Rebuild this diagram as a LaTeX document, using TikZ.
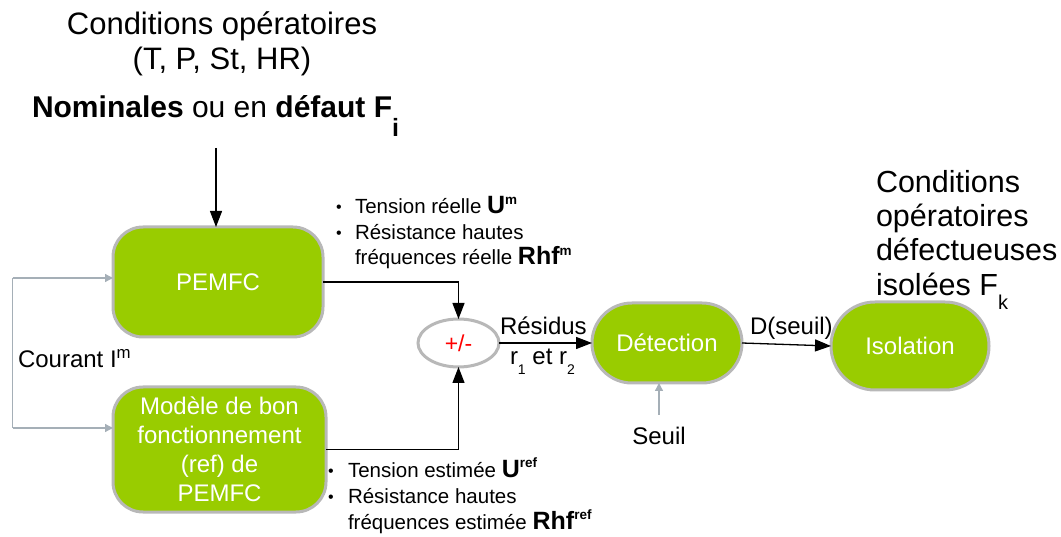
\documentclass[tikz,border=0pt]{standalone}
\usepackage{fontspec}
\setmainfont{Liberation Sans}
\usetikzlibrary{arrows.meta,shapes.geometric}
\definecolor{boxgreen}{HTML}{99CC00}
\definecolor{boxedge}{HTML}{B8B8B8}
\definecolor{wire}{HTML}{A5AFB7}
\newcommand\fsz[2]{\fontsize{#1}{#2}\selectfont}
\newcommand\lowered[3]{\raisebox{-#1}{\fsz{#2}{#2}#3}}
\newcommand\bsup[2]{{\fsz{25}{26}\bfseries #1}\raisebox{9.5pt}{\fsz{13.5}{13.5}\bfseries #2}}
\begin{document}
\begin{tikzpicture}[x=1pt,y=-1pt,
  every node/.style={inner sep=0pt, outer sep=0pt},
  blk/.style={draw=boxedge, line width=3pt, fill=boxgreen, text=white, align=center, font=\fsz{24}{29}},
  lbl/.style={font=\fsz{24}{29}},
  big/.style={font=\fsz{31}{35}},
  side/.style={font=\fsz{30.5}{34.5}, anchor=base west},
  bul/.style={font=\fsz{20.5}{25}, anchor=base west},
  dot/.style={font=\fsz{16}{16}, anchor=base west},
  main/.style={line width=1.3pt, -{Triangle[length=16pt,width=12pt]}},
  fb/.style={draw=wire, line width=1.3pt, -{Triangle[length=8pt,width=8pt]}}
]
\useasboundingbox (0,0) rectangle (1061,537);

% top texts
\node[big, anchor=base] (c1) at (222,35) {Conditions opératoires};
\node[big, anchor=base] (c2) at (222,70) {(T, P, St, HR)};
\node[font=\fsz{30}{35}, anchor=base west] (nom) at (32,118) {\textbf{Nominales} ou en \textbf{défaut F}\lowered{19pt}{25}{\bfseries i}};

% blocks
\node[blk, rounded corners=30pt, minimum width=210pt, minimum height=110pt] (pem) at (218,282) {PEMFC};
\node[blk, rounded corners=30pt, minimum width=213pt, minimum height=125pt] (mod) at (219.5,449.5) {Modèle de bon\\fonctionnement\\(ref) de\\PEMFC};
\node[draw=boxedge, line width=3pt, ellipse, fill=white, minimum width=81pt, minimum height=48pt, font=\fsz{23}{23}, text=red] (sum) at (458.5,343) {+/-};
\node[blk, rounded corners=39.9pt, minimum width=150pt, minimum height=80pt] (det) at (667,343) {Détection};
\node[blk, rounded corners=43.9pt, minimum width=158pt, minimum height=88pt] (iso) at (910,346) {Isolation};

% right text
\node[side] (r1) at (876,193) {Conditions};
\node[side] (r2) at (876,227) {opératoires};
\node[side] (r3) at (876,261) {défectueuses};
\node[side] (r4) at (876,296) {isolées F\lowered{14pt}{20}{k}};

% bullet texts top
\node[dot] (tbd1) at (336,213) {•};
\node[bul] (tb1) at (355,214) {Tension réelle \bsup{U}{m}};
\node[dot] (tbd2) at (336,239) {•};
\node[bul] (tb2) at (355,240) {Résistance hautes};
\node[bul] (tb3) at (355,265) {fréquences réelle \bsup{Rhf}{m}};

% bullet texts bottom
\node[dot] (bbd1) at (328,476) {•};
\node[bul] (bb1) at (348,477) {Tension estimée \bsup{U}{ref}};
\node[dot] (bbd2) at (328,502) {•};
\node[bul] (bb2) at (348,503) {Résistance hautes};
\node[bul] (bb3) at (348,529) {fréquences estimée \bsup{Rhf}{ref}};

% labels
\node[lbl, anchor=base west] (cour) at (18,368) {Courant I\textsuperscript{m}};
\node[lbl, anchor=base west] (res) at (500,335) {Résidus};
\node[lbl, anchor=base west] (rr) at (510,365) {r\lowered{10pt}{14}{1} et r\lowered{10pt}{14}{2}};
\node[lbl, anchor=base] (seuil) at (659,445) {Seuil};
\node[lbl, anchor=base west] (dseuil) at (750,335) {D(seuil)};

% connectors
\coordinate (src) at (216,148);
\draw[main] (src) -- (src |- pem.north);
\draw[main] (pem.east) -| (sum.north);
\draw[main] (mod.east) -| (sum.south);
\draw[main] (sum.east) -- (det.west);
\draw[main] (det.east) -- (iso.west);

\coordinate (fbtop) at (12.7,278);
\coordinate (fbbot) at (12.7,428);
\draw[draw=wire, line width=1.3pt] (fbtop) -- (fbbot);
\draw[fb] (fbtop) -- (fbtop -| pem.west);
\draw[fb] (fbbot) -- (fbbot -| mod.west);

\coordinate (seuilsrc) at (659,415);
\draw[fb] (seuilsrc) -- (seuilsrc |- det.south);
\end{tikzpicture}
\end{document}
